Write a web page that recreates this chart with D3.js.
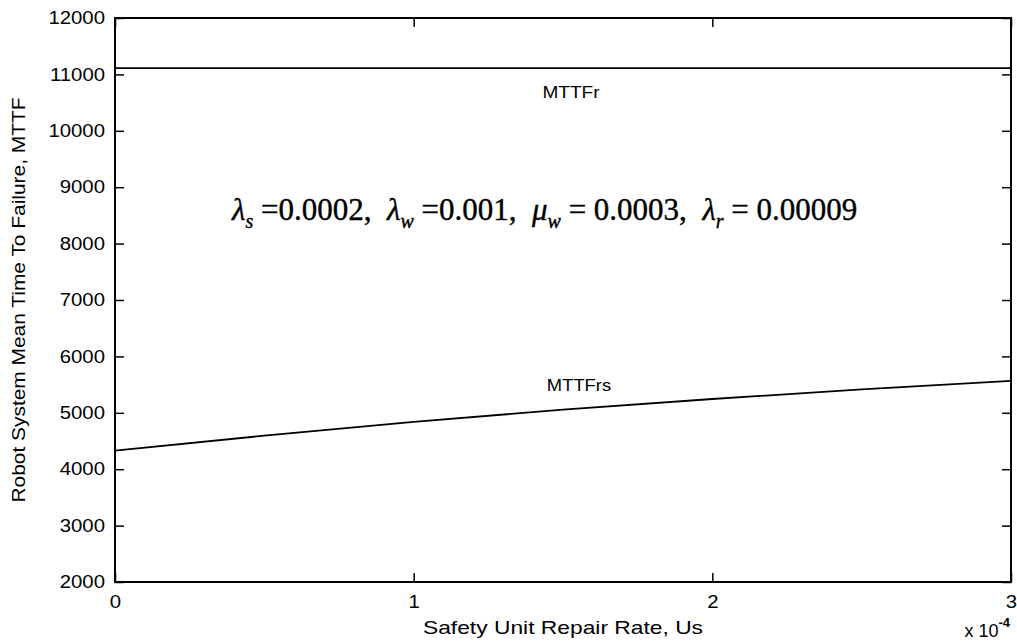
<!DOCTYPE html>
<html lang="en">
<head>
  <meta charset="utf-8">
  <title>MTTF vs safety unit repair rate</title>
  <script src="https://cdn.jsdelivr.net/npm/d3@7"></script>
  <style>
    body { margin: 0; background: #fff; }
    text { font-family: "Liberation Sans", Arial, sans-serif; fill: #000; }
  </style>
</head>
<body>
<script>
// data (x in units of 1e-4)
var repairRate = [0, 0.5, 1, 1.5, 2, 2.5, 3];
var mttfRs = [4330, 4595, 4840, 5055, 5245, 5415, 5565];
var mttfR = [11111, 11111];
var xTicks = [0, 1, 2, 3];
var yTicks = [2000, 3000, 4000, 5000, 6000, 7000, 8000, 9000, 10000, 11000, 12000];

var W = 1017, H = 641;
var m = { left: 115, right: 1011, top: 18, bottom: 582 };

var svg = d3.select("body").append("svg").attr("width", W).attr("height", H);

var x = d3.scaleLinear().domain([0, 3]).range([m.left, m.right]);
var y = d3.scaleLinear().domain([2000, 12000]).range([m.bottom, m.top]);

// the scanned figure is a bit wider than tall, so text is stretched sideways
function stretch(sel, k) {
  sel.each(function() {
    this.setAttribute("textLength", this.getComputedTextLength() * k);
    this.setAttribute("lengthAdjust", "spacingAndGlyphs");
  });
}

// axes with inward ticks, on all four sides
svg.append("g").attr("transform", "translate(0," + m.bottom + ")")
  .call(d3.axisBottom(x).tickValues(xTicks).tickSize(-9).tickPadding(13).tickFormat(d3.format("d")));
svg.append("g").attr("transform", "translate(0," + m.top + ")")
  .call(d3.axisTop(x).tickValues(xTicks).tickSize(-9).tickFormat(""));
svg.append("g").attr("transform", "translate(" + m.left + ",0)")
  .call(d3.axisLeft(y).tickValues(yTicks).tickSize(-9).tickPadding(10).tickFormat(d3.format("d")));
svg.append("g").attr("transform", "translate(" + m.right + ",0)")
  .call(d3.axisRight(y).tickValues(yTicks).tickSize(-9).tickFormat(""));

svg.selectAll(".domain").remove();
svg.selectAll(".tick line").attr("stroke", "#000").attr("stroke-width", 1.5);
svg.selectAll(".tick text").attr("font-size", 18).attr("font-family", "Liberation Sans, Arial, sans-serif");
stretch(svg.selectAll(".tick text"), 1.13);

svg.append("rect").attr("x", m.left).attr("y", m.top)
  .attr("width", m.right - m.left).attr("height", m.bottom - m.top)
  .attr("fill", "none").attr("stroke", "#000").attr("stroke-width", 2);

var line = d3.line().x(function(d){ return x(d[0]); }).y(function(d){ return y(d[1]); });

svg.append("path")
  .datum(repairRate.map(function(r, i){ return [r, mttfRs[i]]; }))
  .attr("d", line).attr("fill", "none").attr("stroke", "#000").attr("stroke-width", 1.8);

svg.append("path")
  .datum([[0, mttfR[0]], [3, mttfR[1]]])
  .attr("d", line).attr("fill", "none").attr("stroke", "#000").attr("stroke-width", 1.8);

// labels
var lr = svg.append("text").attr("x", 571).attr("y", 98).attr("text-anchor", "middle").attr("font-size", 17).text("MTTFr");
var lrs = svg.append("text").attr("x", 579).attr("y", 391).attr("text-anchor", "middle").attr("font-size", 17).text("MTTFrs");
stretch(lr, 1.12);
stretch(lrs, 1.08);

var xl = svg.append("text").attr("x", 563).attr("y", 634).attr("text-anchor", "middle").attr("font-size", 19)
  .text("Safety Unit Repair Rate, Us");
stretch(xl, 1.2);
svg.append("text").attr("transform", "translate(25,300) rotate(-90)").attr("text-anchor", "middle")
  .attr("font-size", 19).attr("textLength", 405).attr("lengthAdjust", "spacingAndGlyphs")
  .text("Robot System Mean Time To Failure, MTTF");

var mult = svg.append("text").attr("x", 1010).attr("y", 637).attr("text-anchor", "end").attr("font-size", 18);
mult.append("tspan").text("x 10");
mult.append("tspan").attr("dy", -10).attr("font-size", 13).attr("font-weight", "bold").text("-4");

// parameter annotation
var ann = svg.append("text").attr("x", 232).attr("y", 220)
  .style("font-family", "'Liberation Serif', 'Times New Roman', serif")
  .style("white-space", "pre").attr("font-size", 31)
  .attr("stroke", "#000").attr("stroke-width", 0.4);
function sym(ch, sub, rest) {
  ann.append("tspan").attr("font-style", "italic").text(ch);
  ann.append("tspan").attr("font-style", "italic").attr("font-size", 20).attr("dy", 8).text(sub);
  ann.append("tspan").attr("dy", -8).text(rest);
}
sym("\u03bb", "s", " =0.0002,  ");
sym("\u03bb", "w", " =0.001,  ");
sym("\u03bc", "w", " = 0.0003,  ");
sym("\u03bb", "r", " = 0.00009");
</script>
</body>
</html>
